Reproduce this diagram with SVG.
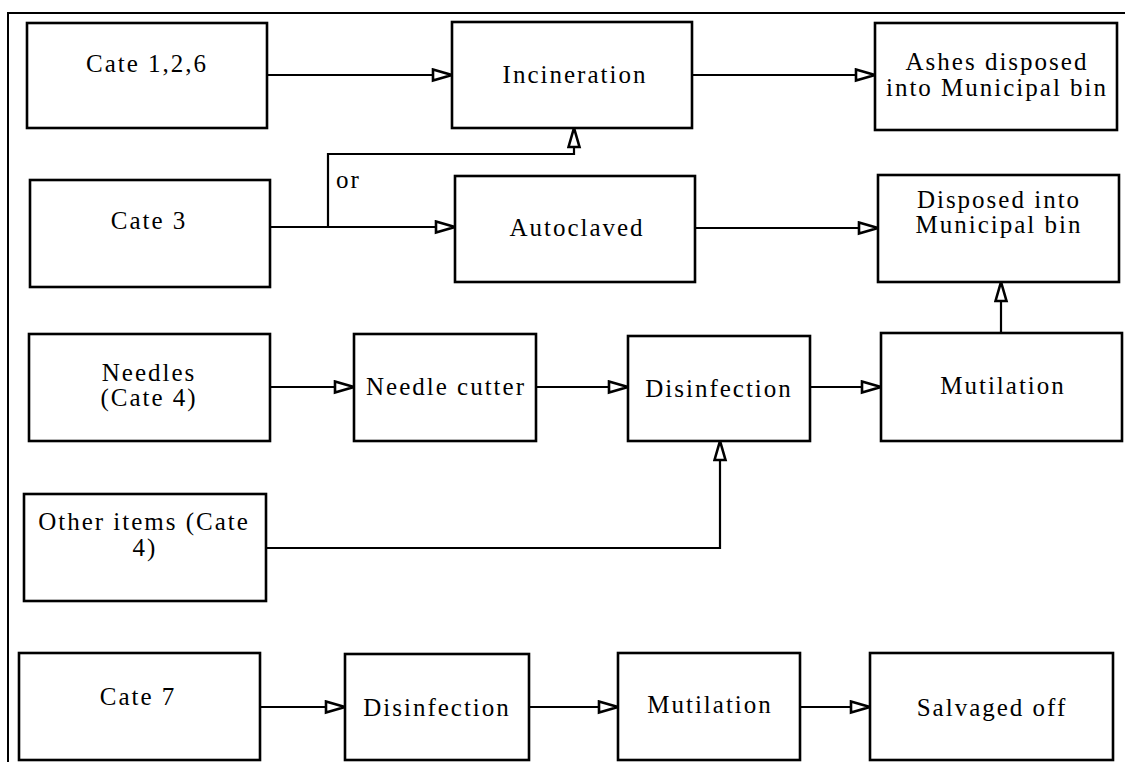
<svg xmlns="http://www.w3.org/2000/svg" width="1125" height="762" viewBox="0 0 1125 762">
  <style>
    .box { fill: #fff; stroke: #000; stroke-width: 2.6; }
    .lbl { font-family: "Liberation Serif", "Times New Roman", serif; font-size: 25px; fill: #000; text-anchor: middle; letter-spacing: 2px; }
    .wire { fill: none; stroke: #000; stroke-width: 2.2; }
  </style>
  <defs>
    <marker id="head" markerUnits="userSpaceOnUse" markerWidth="24" markerHeight="16" refX="21" refY="7" orient="auto">
      <path d="M2,1.5 L21,7 L2,12.5 Z" fill="#fff" stroke="#000" stroke-width="2.6" stroke-linejoin="miter"/>
    </marker>
  </defs>
  <rect width="1125" height="762" fill="#fff"/>

  <!-- outer frame: left and top edges -->
  <path d="M8,762 L8,13 L1125,13" fill="none" stroke="#000" stroke-width="2"/>

  <!-- connectors -->
  <g id="connectors">
    <path class="wire" d="M267,75 L452,75" marker-end="url(#head)"/>
    <path class="wire" d="M692,75 L875,75" marker-end="url(#head)"/>
    <path class="wire" d="M270,227 L455,227" marker-end="url(#head)"/>
    <path class="wire" d="M328,227 L328,154 L574,154 L574,128" marker-end="url(#head)"/>
    <path class="wire" d="M695,228 L878,228" marker-end="url(#head)"/>
    <path class="wire" d="M1001,333 L1001,282" marker-end="url(#head)"/>
    <path class="wire" d="M270,387 L354,387" marker-end="url(#head)"/>
    <path class="wire" d="M536,387 L628,387" marker-end="url(#head)"/>
    <path class="wire" d="M810,387 L881,387" marker-end="url(#head)"/>
    <path class="wire" d="M266,548 L720,548 L720,441" marker-end="url(#head)"/>
    <path class="wire" d="M260,707 L345,707" marker-end="url(#head)"/>
    <path class="wire" d="M529,707 L618,707" marker-end="url(#head)"/>
    <path class="wire" d="M800,707 L870,707" marker-end="url(#head)"/>
    <text class="lbl" x="336" y="188" style="text-anchor:start">or</text>
  </g>

  <g id="cate126">
    <rect class="box" x="27" y="23" width="240" height="105"/>
    <text class="lbl" x="147" y="72">Cate 1,2,6</text>
  </g>
  <g id="incineration">
    <rect class="box" x="452" y="22" width="240" height="106"/>
    <text class="lbl" x="575" y="83">Incineration</text>
  </g>
  <g id="ashes">
    <rect class="box" x="875" y="23" width="242" height="107"/>
    <text class="lbl" x="997" y="70">Ashes disposed</text>
    <text class="lbl" x="997" y="96">into Municipal bin</text>
  </g>
  <g id="cate3">
    <rect class="box" x="30" y="180" width="240" height="107"/>
    <text class="lbl" x="149" y="229">Cate 3</text>
  </g>
  <g id="autoclaved">
    <rect class="box" x="455" y="176" width="240" height="106"/>
    <text class="lbl" x="577" y="236">Autoclaved</text>
  </g>
  <g id="disposed">
    <rect class="box" x="878" y="175" width="241" height="107"/>
    <text class="lbl" x="999" y="208">Disposed into</text>
    <text class="lbl" x="999" y="233">Municipal bin</text>
  </g>
  <g id="needles">
    <rect class="box" x="29" y="334" width="241" height="107"/>
    <text class="lbl" x="149" y="381">Needles</text>
    <text class="lbl" x="149" y="406">(Cate 4)</text>
  </g>
  <g id="needle-cutter">
    <rect class="box" x="354" y="334" width="182" height="107"/>
    <text class="lbl" x="446" y="395">Needle cutter</text>
  </g>
  <g id="disinfection-1">
    <rect class="box" x="628" y="336" width="182" height="105"/>
    <text class="lbl" x="719" y="397">Disinfection</text>
  </g>
  <g id="mutilation-1">
    <rect class="box" x="881" y="333" width="241" height="108"/>
    <text class="lbl" x="1003" y="394">Mutilation</text>
  </g>
  <g id="other-items">
    <rect class="box" x="24" y="494" width="242" height="107"/>
    <text class="lbl" x="144" y="530">Other items (Cate</text>
    <text class="lbl" x="145" y="556">4)</text>
  </g>
  <g id="cate7">
    <rect class="box" x="19" y="653" width="241" height="107"/>
    <text class="lbl" x="138" y="705">Cate 7</text>
  </g>
  <g id="disinfection-2">
    <rect class="box" x="345" y="654" width="184" height="106"/>
    <text class="lbl" x="437" y="716">Disinfection</text>
  </g>
  <g id="mutilation-2">
    <rect class="box" x="618" y="653" width="182" height="107"/>
    <text class="lbl" x="710" y="713">Mutilation</text>
  </g>
  <g id="salvaged">
    <rect class="box" x="870" y="653" width="243" height="107"/>
    <text class="lbl" x="992" y="716">Salvaged off</text>
  </g>
</svg>
